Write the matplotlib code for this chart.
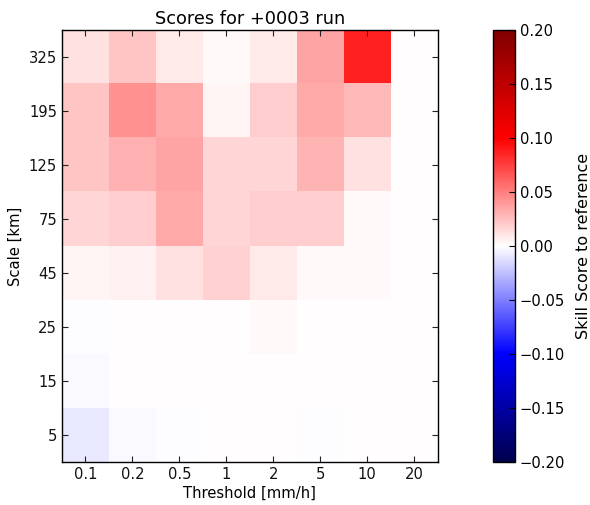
import matplotlib
matplotlib.use("Agg")
import matplotlib.pyplot as plt
import numpy as np

thresholds = ["0.1", "0.2", "0.5", "1", "2", "5", "10", "20"]
scales = ["5", "15", "25", "45", "75", "125", "195", "325"]

# rows: scales (bottom to top), columns: thresholds
row_5   = [-0.008, -0.003, -0.001, 0.0, 0.0, -0.0005, 0.0, 0.0]
row_15  = [-0.003, 0.0003, 0.0003, 0.0003, 0.0003, 0.0003, 0.0003, 0.0003]
row_25  = [-0.001, 0.0003, 0.0003, 0.0003, 0.002, 0.0003, 0.0003, 0.0003]
row_45  = [0.004, 0.005, 0.012, 0.018, 0.008, 0.003, 0.002, 0.0003]
row_75  = [0.016, 0.020, 0.033, 0.016, 0.020, 0.020, 0.002, 0.0003]
row_125 = [0.022, 0.031, 0.035, 0.016, 0.016, 0.029, 0.011, 0.0003]
row_195 = [0.022, 0.043, 0.033, 0.004, 0.020, 0.033, 0.027, 0.0003]
row_325 = [0.012, 0.022, 0.008, 0.002, 0.009, 0.035, 0.087, 0.0003]

data = np.array([row_5, row_15, row_25, row_45, row_75, row_125, row_195, row_325])

plt.rcParams['font.family'] = ['DejaVu Sans']
plt.rcParams['xtick.direction'] = 'in'
plt.rcParams['ytick.direction'] = 'in'
plt.rcParams['xtick.top'] = True
plt.rcParams['ytick.right'] = True
plt.rcParams['axes.linewidth'] = 1.0

fig = plt.figure(figsize=(5.9, 5.05), dpi=100, facecolor='white')
ax = fig.add_axes([0.105, 0.085, 0.637, 0.856])
im = ax.imshow(data, cmap='seismic', vmin=-0.2, vmax=0.2, origin='lower',
               aspect='auto', interpolation='nearest')
ax.set_xticks(np.arange(len(thresholds)))
ax.set_xticklabels(thresholds)
ax.set_yticks(np.arange(len(scales)))
ax.set_yticklabels(scales)
ax.tick_params(labelsize=10.6, length=4, width=0.8, colors='#222222', labelcolor='#111111')
ax.set_xlabel("Threshold [mm/h]", fontsize=10.6, labelpad=3)
ax.set_ylabel("Scale [km]", fontsize=10.6)
ax.set_title("Scores for +0003 run", fontsize=12.8, pad=4)

cax = fig.add_axes([0.836, 0.085, 0.037, 0.856])
cb = fig.colorbar(im, cax=cax)
cb.set_ticks([-0.2, -0.15, -0.1, -0.05, 0.0, 0.05, 0.1, 0.15, 0.2])
cb.ax.tick_params(labelsize=10.6, direction='in', length=4)
cb.outline.set_linewidth(1.0)
cb.set_label("Skill Score to reference", fontsize=11.5, labelpad=8)

fig.savefig("out.png", dpi=100, facecolor='white')
